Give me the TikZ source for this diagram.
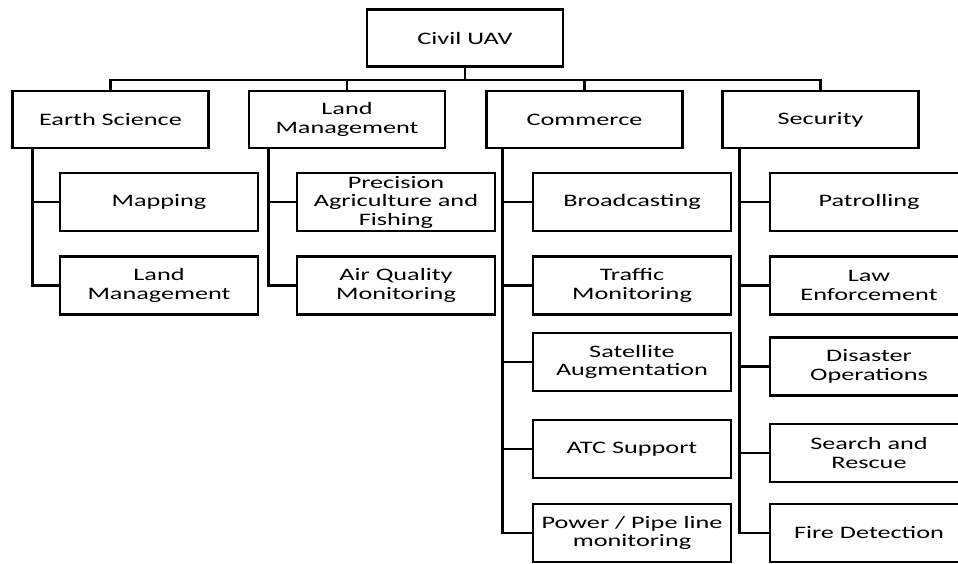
\documentclass[tikz,border=0pt]{standalone}
\usepackage{fontspec}
\setsansfont[FakeStretch=1.5]{Carlito}
\usepackage{tikz}
\usetikzlibrary{positioning}

\begin{document}
\begin{tikzpicture}[x=1pt,y=-1pt,font=\sffamily\fontsize{17.5}{18.5}\selectfont,
    catbox/.style={draw,line width=2.8pt,minimum width=196pt,minimum height=57pt,align=center,inner sep=1pt},
    itembox/.style={draw,line width=2.8pt,minimum width=198pt,minimum height=58pt,align=center,inner sep=1pt},
    link/.style={line width=2.8pt}]
  \clip (0,0) rectangle (958,563);
  % top of the tree
  \node[catbox] (uav) at (465,38) {Civil UAV};
  \node[catbox] (earth) at (110.5,119.5) {Earth Science};
  \node[catbox] (land) at (347,119.5) {Land\\Management};
  \node[catbox] (comm) at (584.5,119.5) {Commerce};
  \node[catbox] (secu) at (820.5,119.5) {Security};
  \coordinate (bus) at (465,80);
  \draw[link] (uav) -- (bus);
  \foreach \n in {earth,land,comm,secu}
    \draw[link] (\n.north) |- (bus);
  % earth science
  \node[itembox] (mapping) at (159,202) {Mapping};
  \node[itembox] (landmgmt) at (159,285.5) {Land\\Management};
  % land management
  \node[itembox] (agri) at (396,202) {Precision\\Agriculture and\\Fishing};
  \node[itembox] (air) at (396,285.5) {Air Quality\\Monitoring};
  % commerce
  \node[itembox] (broad) at (632,202) {Broadcasting};
  \node[itembox] (traffic) at (632,285.5) {Traffic\\Monitoring};
  \node[itembox] (sat) at (632,362) {Satellite\\Augmentation};
  \node[itembox] (atc) at (632,449) {ATC Support};
  \node[itembox] (pipe) at (632,533) {Power / Pipe line\\monitoring};
  % security
  \node[itembox] (patrol) at (869,202) {Patrolling};
  \node[itembox] (law) at (869,285.5) {Law\\Enforcement};
  \node[itembox] (disaster) at (869,366.5) {Disaster\\Operations};
  \node[itembox] (search) at (869,453) {Search and\\Rescue};
  \node[itembox] (fire) at (869,533) {Fire Detection};
  % trunks
  \foreach \n in {mapping,landmgmt}
    \draw[link] ([xshift=21pt]earth.south west) |- (\n.west);
  \foreach \n in {agri,air}
    \draw[link] ([xshift=21pt]land.south west) |- (\n.west);
  \foreach \n in {broad,traffic,sat,atc,pipe}
    \draw[link] ([xshift=17pt]comm.south west) |- (\n.west);
  \foreach \n in {patrol,law,disaster,search,fire}
    \draw[link] ([xshift=18pt]secu.south west) |- (\n.west);
\end{tikzpicture}
\end{document}
